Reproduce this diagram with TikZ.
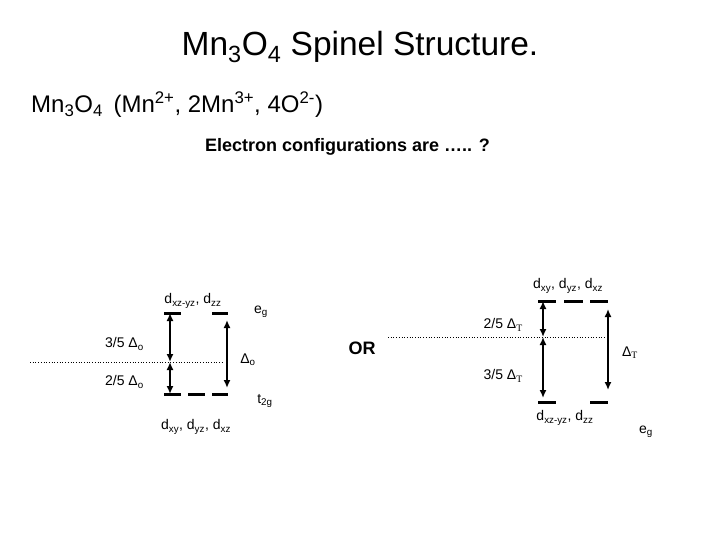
\documentclass[tikz,border=0pt]{standalone}
\usepackage{fontspec}
\setmainfont{Liberation Sans}
\newfontfamily\serifT{Liberation Serif}
\usetikzlibrary{arrows.meta}
\begin{document}
\begin{tikzpicture}[x=1pt,y=-1pt,
 lvl/.style={line width=3pt},
 dbl/.style={line width=2.4pt,{Latex[length=8pt,width=7pt]}-{Latex[length=8pt,width=7pt]}},
 lab/.style={font=\fontsize{14}{16}\selectfont, inner sep=0pt},
 dotline/.style={dotted, line width=0.7pt}]
\useasboundingbox (0,0) rectangle (720,540);
% titles
\node[font=\fontsize{33.5}{38}\selectfont] (title) at (360,47) {Mn\textsubscript{3}O\textsubscript{4} Spinel Structure.};
\node[anchor=west, font=\fontsize{24}{28}\selectfont, inner sep=0pt] (formula) at (31,105) {Mn\textsubscript{3}O\textsubscript{4}\, (Mn\textsuperscript{2+}, 2Mn\textsuperscript{3+}, 4O\textsuperscript{2-})};
\node[anchor=west, font=\bfseries\fontsize{18}{22}\selectfont, inner sep=0pt] (question) at (205,147) {Electron configurations are ….. ?};
\node[font=\bfseries\fontsize{18}{22}\selectfont] (or) at (362,348) {OR};

% ---- left (octahedral) diagram
\draw[lvl] (164,313) -- (181,313);
\draw[lvl] (212,313) -- (228,313);
\draw[lvl] (164,394) -- (181,394);
\draw[lvl] (188,394) -- (205,394);
\draw[lvl] (212,394) -- (228,394);
\coordinate (Ldot) at (30,362);
\coordinate (Lmid) at (170,362);
\coordinate (Ldotend) at (224,362);
\coordinate (Ltop) at (170,313);
\coordinate (Lbot) at (170,394);
\coordinate (Rtop) at (227,320);
\coordinate (Rbot) at (227,388);
\draw[dotline] (Ldot) -- (Ldotend);
\draw[dbl] (Ltop) -- (Lmid);
\draw[dbl] (Lmid) -- (Lbot);
\draw[dbl] (Rtop) -- (Rbot);
\node[lab] (lup) at (193,301) {d\textsubscript{xz-yz}, d\textsubscript{zz}};
\node[lab] (leg) at (261,312) {e\textsubscript{g}};
\node[lab, anchor=east] (l35) at (144,344) {3/5 Δ\textsubscript{o}};
\node[lab, anchor=east] (l25) at (144,382) {2/5 Δ\textsubscript{o}};
\node[lab] (ldo) at (248,360) {Δ\textsubscript{o}};
\node[lab] (lt2g) at (265,401) {t\textsubscript{2g}};
\node[lab] (ldown) at (196,427) {d\textsubscript{xy}, d\textsubscript{yz}, d\textsubscript{xz}};

% ---- right (tetrahedral) diagram
\draw[lvl] (538,301) -- (556,301);
\draw[lvl] (564,301) -- (583,301);
\draw[lvl] (590,301) -- (608,301);
\draw[lvl] (538,402) -- (556,402);
\draw[lvl] (590,402) -- (608,402);
\coordinate (Tdot) at (388,337);
\coordinate (Tdotend) at (606,337);
\coordinate (Tmid) at (543,337);
\coordinate (Ttop) at (543,301);
\coordinate (Tbot) at (543,398);
\coordinate (TRtop) at (608,309);
\coordinate (TRbot) at (608,390);
\draw[dotline] (Tdot) -- (Tdotend);
\draw[dbl] (Ttop) -- (Tmid);
\draw[dbl] (Tmid) -- (Tbot);
\draw[dbl] (TRtop) -- (TRbot);
\node[lab] (tup) at (568,286) {d\textsubscript{xy}, d\textsubscript{yz}, d\textsubscript{xz}};
\node[lab, anchor=east] (t25) at (523,325) {2/5 Δ\textsubscript{\serifT T}};
\node[lab, anchor=east] (t35) at (523,376) {3/5 Δ\textsubscript{\serifT T}};
\node[lab] (tdt) at (630,353) {Δ\textsubscript{\serifT T}};
\node[lab] (tdown) at (565,418) {d\textsubscript{xz-yz}, d\textsubscript{zz}};
\node[lab] (teg) at (646,432) {e\textsubscript{g}};
\end{tikzpicture}
\end{document}
